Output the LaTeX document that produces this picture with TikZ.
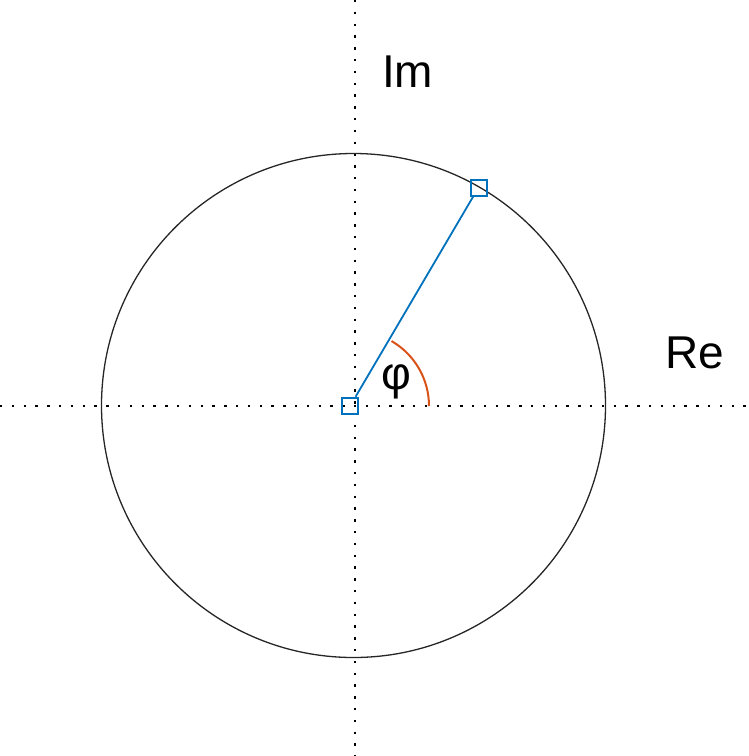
\documentclass[tikz,border=0pt]{standalone}
\usepackage{fontspec}
\setmainfont{Liberation Sans}
\definecolor{mblue}{RGB}{0,114,189}
\definecolor{morange}{RGB}{217,83,25}
\definecolor{mgray}{RGB}{38,38,38}
\begin{document}
\begin{tikzpicture}[x=1pt,y=-1pt,
  axisdots/.style={line width=2pt,dash pattern=on 2.4pt off 9.4pt,black},
  unitcircle/.style={line width=1.3pt,mgray},
  marker/.style={draw=mblue,line width=2pt,rectangle,minimum size=16pt,inner sep=0pt},
  vecline/.style={mblue,line width=1.8pt},
  anglearc/.style={morange,line width=2pt},
  lbl/.style={font=\fontsize{46}{50}\selectfont,inner sep=0pt}]
\useasboundingbox (0,0) rectangle (748,756);
% axes
\coordinate (xl) at (0,406);
\coordinate (xr) at (748,406);
\coordinate (yt) at (355,0);
\coordinate (yb) at (355,756);
\draw[axisdots] (xl) -- (xr);
\draw[axisdots] (yt) -- (yb);
% circle
\coordinate (C) at (353.5,405.5);
\draw[unitcircle] (C) circle[radius=252pt];
% vector
\node[marker] (o) at (350.3,405.7) {};
\node[marker] (p) at (478.5,187.5) {};
\draw[vecline] (o) -- (p);
% angle arc
\coordinate (A) at (429,406);
\draw[anglearc] (A) arc[start angle=0,end angle=60,radius=75pt];
% labels
\node[lbl,anchor=base] (phi) at (396.5,389) {φ};
\node[lbl,anchor=base west] (im) at (382,87) {Im};
\node[lbl,anchor=base west] (re) at (665,368) {Re};
\end{tikzpicture}
\end{document}
